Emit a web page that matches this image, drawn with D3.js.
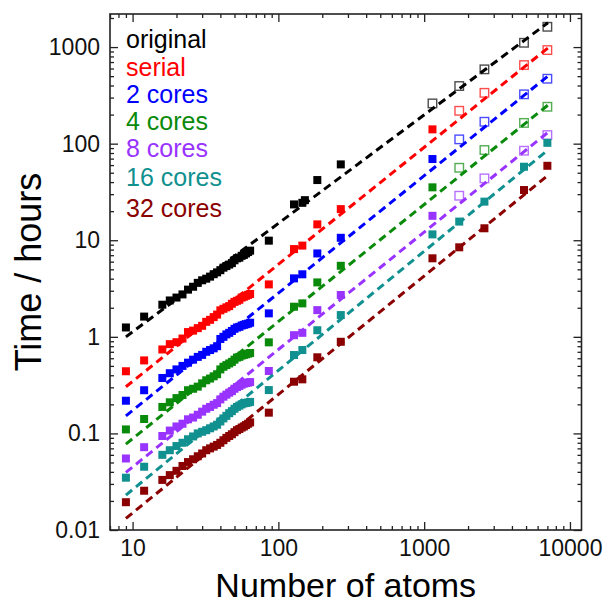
<!DOCTYPE html>
<html>
<head>
<meta charset="utf-8">
<script src="https://cdn.jsdelivr.net/npm/d3@7"></script>
<style>
  html, body { margin: 0; padding: 0; background: #fff; }
  svg { display: block; font-family: "Liberation Sans", Arial, sans-serif; }
</style>
</head>
<body>
<svg id="chart" width="606" height="603"></svg>
<script>
// ---------- DATA ----------
const atoms = [9, 12, 16, 18, 20, 22, 24, 26, 28, 30, 32, 34, 36, 38, 40, 42, 44, 46, 48, 50, 52, 54, 56, 58, 60, 62, 64,
               86, 128, 146, 152, 185, 268,
               1140, 1740, 2590, 4840, 7000];

const seriesNames = ["original", "serial", "2 cores", "4 cores", "8 cores", "16 cores", "32 cores"];
const seriesColors = ["#000000", "#ff0000", "#0000ff", "#0a8a0a", "#9933ff", "#119090", "#8b0000"];

const original = [1.25, 1.62, 2.15, 2.38, 2.55, 2.75, 3.08, 3.3, 3.62, 3.85, 4.0, 4.2, 4.45, 4.65, 4.9, 5.2, 5.4, 5.6, 5.8, 6.2, 6.5, 6.6, 6.9, 7.05, 7.3, 7.55, 7.8,
                  9.9, 23.5, 24.4, 26, 42, 61,
                  261, 395, 588, 1108, 1622];
const serial = [0.44, 0.57, 0.74, 0.84, 0.88, 0.96, 1.12, 1.16, 1.23, 1.3, 1.43, 1.5, 1.6, 1.7, 1.88, 1.95, 2.02, 2.08, 2.2, 2.3, 2.36, 2.42, 2.55, 2.6, 2.66, 2.72, 2.78,
                3.49, 8.1, 8.8, null, 14.6, 21,
                140.6, 219, 336, 651, 931];
const cores2 = [0.218, 0.28, 0.375, 0.42, 0.46, 0.5, 0.54, 0.58, 0.62, 0.65, 0.7, 0.73, 0.76, 0.8, 0.95, 1.0, 1.06, 1.1, 1.15, 1.21, 1.25, 1.27, 1.31, 1.33, 1.35, 1.37, 1.4,
                1.75, 4.03, 4.44, null, 7.3, 10.6,
                69.3, 110.8, 168.6, 324, 470];
const cores4 = [0.11, 0.141, 0.188, 0.21, 0.232, 0.25, 0.28, 0.29, 0.305, 0.33, 0.355, 0.37, 0.39, 0.41, 0.46, 0.49, 0.51, 0.53, 0.55, 0.58, 0.61, 0.62, 0.64, 0.65, 0.66, 0.67, 0.68,
                0.877, 2.05, 2.22, null, 3.66, 5.44,
                35.3, 56.3, 85.9, 164, 241];
const cores8 = [0.055, 0.072, 0.094, 0.107, 0.118, 0.126, 0.14, 0.146, 0.156, 0.168, 0.18, 0.188, 0.198, 0.206, 0.225, 0.24, 0.252, 0.264, 0.274, 0.29, 0.302, 0.31, 0.32, 0.328, 0.332, 0.336, 0.34,
                0.443, 1.04, 1.1, null, 1.89, 2.71,
                17.9, 28.9, 43.7, 84.5, 122.7];
const cores16 = [0.0348, 0.0452, 0.06, 0.067, 0.074, 0.08, 0.087, 0.093, 0.1, 0.104, 0.108, 0.113, 0.118, 0.123, 0.133, 0.143, 0.152, 0.162, 0.17, 0.18, 0.188, 0.194, 0.2, 0.205, 0.207, 0.209, 0.212,
                 0.281, 0.648, 0.73, null, 1.17, 1.68,
                 11.5, 15.6, 25.1, 57.7, 102];
const cores32 = [0.0194, 0.0255, 0.033, 0.037, 0.041, 0.046, 0.0505, 0.054, 0.058, 0.062, 0.067, 0.07, 0.073, 0.076, 0.08, 0.085, 0.09, 0.094, 0.098, 0.103, 0.108, 0.111, 0.115, 0.118, 0.122, 0.126, 0.13,
                 0.164, 0.343, 0.363, null, 0.614, 0.889,
                 6.5, 8.45, 13.3, 33.1, 59];

// atoms at which each series is drawn with an open (hollow) square
const originalHollow = [1140, 1740, 2590, 4840, 7000];
const serialHollow = [1740, 2590, 4840, 7000];
const cores2Hollow = [1740, 2590, 4840, 7000];
const cores4Hollow = [1740, 2590, 4840, 7000];
const cores8Hollow = [1740, 2590, 4840, 7000];
const cores16Hollow = [];
const cores32Hollow = [];

// dashed power-law fit lines: value at fitAtoms[0] and fitAtoms[1]
const fitAtoms = [9, 7070];
const fitStart = [1.0, 0.304, 0.152, 0.0776, 0.0395, 0.023, 0.0132];
const fitEnd = [1786, 980, 501, 251, 131, 86, 47];

const xTickValues = [10, 100, 1000, 10000];
const xTickLabels = ["10", "100", "1000", "10000"];
const yTickValues = [0.01, 0.1, 1, 10, 100, 1000];
const yTickLabels = ["0.01", "0.1", "1", "10", "100", "1000"];

const xTitle = "Number of atoms";
const yTitle = "Time / hours";

// ---------- CHART ----------
const seriesValues = [original, serial, cores2, cores4, cores8, cores16, cores32];
const seriesHollow = [originalHollow, serialHollow, cores2Hollow, cores4Hollow, cores8Hollow, cores16Hollow, cores32Hollow];

const svg = d3.select("#chart");
const pL = 110, pR = 581.5, pT = 14, pB = 530;

const x = d3.scaleLog().domain([7, 12000]).range([pL, pR]);
const y = d3.scaleLog().domain([0.01, 2200]).range([pB, pT]);

function minorTicks(scale) {
  const [a, b] = scale.domain();
  const out = [];
  for (let e = Math.floor(Math.log10(a)) - 1; e <= Math.ceil(Math.log10(b)); e++) {
    for (let m = 2; m <= 9; m++) {
      const v = +(m * Math.pow(10, e)).toPrecision(6);
      if (v >= a && v <= b) out.push(v);
    }
  }
  return out;
}

const axisColor = "#222";
const plot = svg.append("g");

// points
seriesValues.forEach((vals, si) => {
  const col = seriesColors[si];
  const pts = atoms.map((a, i) => ({ a, v: vals[i] })).filter(d => d.v != null);
  const g = plot.append("g");
  g.selectAll("rect.pt").data(pts).enter().append("rect")
    .attr("class", "pt")
    .each(function (d) {
      const hollow = seriesHollow[si].includes(d.a);
      const s = hollow ? 8.5 : 8;
      d3.select(this)
        .attr("x", x(d.a) - s / 2)
        .attr("y", y(d.v) - s / 2)
        .attr("width", s)
        .attr("height", s)
        .attr("fill", hollow ? "none" : col)
        .attr("stroke", hollow ? col : "none")
        .attr("stroke-opacity", 0.7)
        .attr("stroke-width", 1.4);
    });
});

// fit lines
const line = d3.line().x(d => x(d[0])).y(d => y(d[1]));
seriesValues.forEach((vals, si) => {
  plot.append("path")
    .attr("d", line([[fitAtoms[0], fitStart[si]], [fitAtoms[1], fitEnd[si]]]))
    .attr("fill", "none")
    .attr("stroke", seriesColors[si])
    .attr("stroke-width", 3)
    .attr("stroke-dasharray", "8,5");
});

// axes
function styleAxis(g) {
  g.select(".domain").remove();
  g.selectAll("line").attr("stroke", axisColor).attr("stroke-width", 1.3);
  g.selectAll("text").attr("font-size", 23).attr("fill", "#111")
    .attr("font-family", "'Liberation Sans', Arial, sans-serif");
}

// bottom
svg.append("g").attr("transform", `translate(0,${pB})`)
  .call(d3.axisBottom(x).tickValues(xTickValues).tickSizeInner(-8).tickSizeOuter(0).tickPadding(10)
    .tickFormat((d, i) => xTickLabels[i]))
  .call(styleAxis);
svg.append("g").attr("transform", `translate(0,${pB})`)
  .call(d3.axisBottom(x).tickValues(minorTicks(x)).tickSizeInner(-4).tickSizeOuter(0).tickFormat(""))
  .call(styleAxis);
// top
svg.append("g").attr("transform", `translate(0,${pT})`)
  .call(d3.axisTop(x).tickValues(xTickValues).tickSizeInner(-8).tickSizeOuter(0).tickFormat(""))
  .call(styleAxis);
svg.append("g").attr("transform", `translate(0,${pT})`)
  .call(d3.axisTop(x).tickValues(minorTicks(x)).tickSizeInner(-4).tickSizeOuter(0).tickFormat(""))
  .call(styleAxis);
// left
svg.append("g").attr("transform", `translate(${pL},0)`)
  .call(d3.axisLeft(y).tickValues(yTickValues).tickSizeInner(-8).tickSizeOuter(0).tickPadding(10)
    .tickFormat((d, i) => yTickLabels[i]))
  .call(styleAxis);
svg.append("g").attr("transform", `translate(${pL},0)`)
  .call(d3.axisLeft(y).tickValues(minorTicks(y)).tickSizeInner(-4).tickSizeOuter(0).tickFormat(""))
  .call(styleAxis);
// right
svg.append("g").attr("transform", `translate(${pR},0)`)
  .call(d3.axisRight(y).tickValues(yTickValues).tickSizeInner(-8).tickSizeOuter(0).tickFormat(""))
  .call(styleAxis);
svg.append("g").attr("transform", `translate(${pR},0)`)
  .call(d3.axisRight(y).tickValues(minorTicks(y)).tickSizeInner(-4).tickSizeOuter(0).tickFormat(""))
  .call(styleAxis);

// frame
svg.append("rect")
  .attr("x", pL).attr("y", pT)
  .attr("width", pR - pL).attr("height", pB - pT)
  .attr("fill", "none").attr("stroke", axisColor).attr("stroke-width", 1.6);

// axis titles
svg.append("text")
  .attr("x", (pL + pR) / 2).attr("y", 597)
  .attr("text-anchor", "middle")
  .attr("font-size", 34).attr("fill", "#000")
  .text(xTitle);
svg.append("text")
  .attr("transform", `translate(41,${(pT + pB) / 2}) rotate(-90)`)
  .attr("text-anchor", "middle")
  .attr("font-size", 36).attr("fill", "#000")
  .text(yTitle);

// legend
const legendBaselines = [48, 76, 103, 130, 157, 186, 217];
seriesNames.forEach((name, i) => {
  svg.append("text")
    .attr("x", 126).attr("y", legendBaselines[i])
    .attr("font-size", 25).attr("fill", seriesColors[i])
    .text(name);
});
</script>
</body>
</html>
